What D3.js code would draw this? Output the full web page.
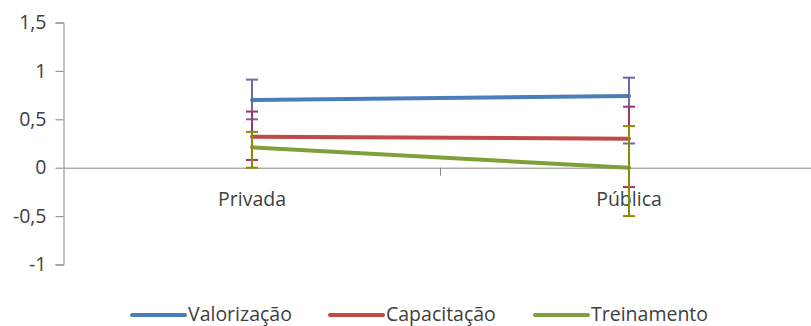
<!DOCTYPE html>
<html><head><meta charset="utf-8">
<script src="https://cdn.jsdelivr.net/npm/d3@7"></script>
<style>
html,body{margin:0;padding:0;background:#fff;}
svg{display:block;font-family:"Open Sans","Noto Sans",sans-serif;}
</style></head>
<body><svg id="c" width="811" height="326"></svg>
<script>
const categories = ["Privada", "Pública"];
const seriesNames = ["Valorização", "Capacitação", "Treinamento"];
const meanValorizacao = [0.70, 0.74];
const meanCapacitacao = [0.32, 0.30];
const meanTreinamento = [0.21, 0.00];
const highValorizacao = [0.91, 0.93];
const lowValorizacao = [0.50, 0.25];
const highCapacitacao = [0.58, 0.63];
const lowCapacitacao = [0.08, -0.20];
const highTreinamento = [0.37, 0.43];
const lowTreinamento = [0.00, -0.50];
const yTicks = [-1, -0.5, 0, 0.5, 1, 1.5];

const lineColors = ["#4A7EBB", "#BE4B48", "#7EA03A"];
const barColors = ["#6B6BAA", "#A3336E", "#8C8C00"];

const series = [
  {name: seriesNames[0], mean: meanValorizacao, hi: highValorizacao, lo: lowValorizacao},
  {name: seriesNames[1], mean: meanCapacitacao, hi: highCapacitacao, lo: lowCapacitacao},
  {name: seriesNames[2], mean: meanTreinamento, hi: highTreinamento, lo: lowTreinamento}
];

const FS = "19.5px";
const svg = d3.select("#c");
const x0 = 63.5, x1 = 817.5;
const x = d3.scaleBand().domain(categories).range([x0, x1]).padding(0);
const y = d3.scaleLinear().domain([-1, 1.5]).range([264.5, 22.5]);
const cx = c => x(c) + x.bandwidth() / 2;
const axisCol = "#868686", textCol = "#404040";

// y axis
const ya = svg.append("g").attr("transform", `translate(${x0},0)`)
  .call(d3.axisLeft(y).tickValues(yTicks).tickSize(8).tickPadding(9)
    .tickFormat(d => String(d).replace(".", ",")));
ya.attr("font-family", null).attr("font-size", null);
ya.select(".domain").attr("stroke", axisCol).attr("stroke-width", 1);
ya.selectAll(".tick line").attr("stroke", axisCol);
ya.selectAll(".tick text").attr("fill", textCol).style("font-size", FS);

// x axis at zero
const xa = svg.append("g").attr("transform", `translate(0,${y(0)})`)
  .call(d3.axisBottom(x).tickSize(0).tickPadding(24));
xa.attr("font-family", null).attr("font-size", null);
xa.select(".domain").attr("stroke", axisCol).attr("stroke-width", 1);
xa.selectAll(".tick text").attr("fill", textCol).style("font-size", FS);
// category boundary tick marks
xa.selectAll(".bnd").data(categories.slice(1)).enter().append("line")
  .attr("x1", d => x(d)).attr("x2", d => x(d)).attr("y1", 0).attr("y2", 8)
  .attr("stroke", axisCol);

const line = d3.line().x((d, i) => cx(categories[i])).y(d => y(d));
const cap = 6;
series.forEach((s, k) => {
  svg.append("path").datum(s.mean).attr("d", line)
    .attr("fill", "none").attr("stroke", lineColors[k]).attr("stroke-width", 4)
    .attr("stroke-linecap", "round");
  const g = svg.append("g").attr("stroke", barColors[k]).attr("stroke-width", 2);
  categories.forEach((c, i) => {
    const px = cx(c);
    g.append("line").attr("x1", px).attr("x2", px).attr("y1", y(s.hi[i])).attr("y2", y(s.lo[i]));
    [s.hi[i], s.lo[i]].forEach(v => {
      g.append("line").attr("x1", px - cap).attr("x2", px + cap).attr("y1", y(v)).attr("y2", y(v));
    });
  });
});

// legend
const legX = [132, 330, 535];
const lg = svg.append("g");
series.forEach((s, k) => {
  lg.append("line").attr("x1", legX[k]).attr("x2", legX[k] + 53).attr("y1", 315).attr("y2", 315)
    .attr("stroke", lineColors[k]).attr("stroke-width", 4).attr("stroke-linecap", "round");
  lg.append("text").attr("x", legX[k] + 56).attr("y", 321).text(s.name)
    .attr("fill", textCol).style("font-size", FS);
});
</script></body></html>
